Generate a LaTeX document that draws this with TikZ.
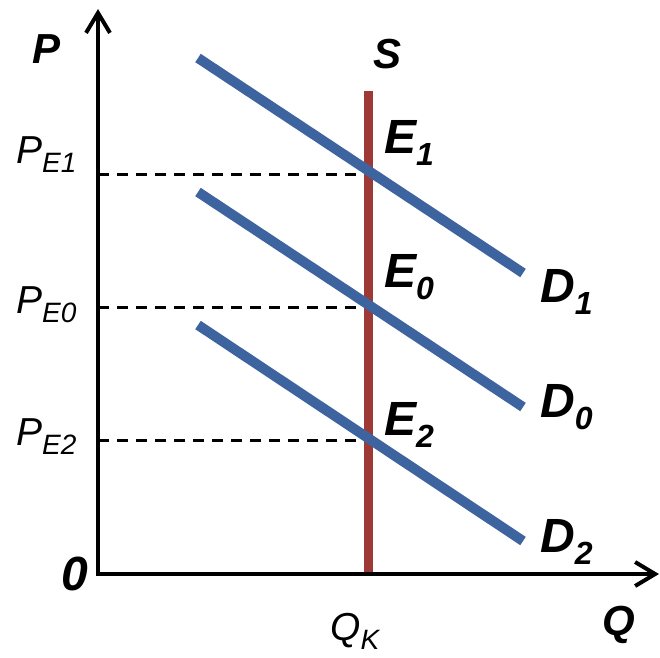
\documentclass[tikz,border=0pt]{standalone}
\usepackage{fontspec}
\setmainfont{Liberation Sans}
\usetikzlibrary{arrows.meta}
\definecolor{dblue}{HTML}{3E64A0}
\definecolor{sred}{HTML}{9E3A35}
\newcommand{\alab}[1]{\fontsize{42}{44}\selectfont\bfseries\itshape #1}
\newcommand{\blab}[2]{\fontsize{48}{50}\selectfont\bfseries\itshape #1\raisebox{-12pt}{\fontsize{32}{34}\selectfont #2}}
\newcommand{\plab}[2]{\fontsize{39}{40}\selectfont\itshape #1\raisebox{-9pt}{\fontsize{28}{30}\selectfont #2}}

\begin{document}
\begin{tikzpicture}[x=1pt,y=-1pt,
  axis/.style={line width=4pt,{Straight Barb[length=20pt,width=24pt,line width=4pt]}-{Straight Barb[length=20pt,width=24pt,line width=4pt]}},
  demand/.style={dblue,line width=10pt},
  supply/.style={sred,line width=9pt},
  guide/.style={line width=3pt,dash pattern=on 11pt off 8pt},
  lab/.style={anchor=base west,inner sep=0pt}]
  \useasboundingbox (0,0) rectangle (660,657);
  % price guides
  \foreach \n/\y in {1/174,0/307,2/440}
    {\coordinate (p\n) at (98,\y);
     \coordinate (e\n) at (368,\y);
     \draw[guide] (p\n) -- (e\n);}
  % supply
  \coordinate (stop) at (368,91);
  \coordinate (sbot) at (368,574);
  \draw[supply] (stop) -- (sbot);
  % demand curves
  \foreach \n/\ya/\yb in {1/58/273,0/192/407,2/325/541}
    {\coordinate (d\n a) at (198,\ya);
     \coordinate (d\n b) at (523,\yb);
     \draw[demand] (d\n a) -- (d\n b);}
  % axes
  \coordinate (O) at (98,574);
  \coordinate (ytop) at (98,9);
  \coordinate (xend) at (659,574);
  \draw[axis] (ytop) -- (O) -- (xend);
  % labels
  \node[lab] (P) at (32,63) {\alab{P}};
  \node[lab] (S) at (373,68) {\alab{S}};
  \node[lab] (Q) at (602,635) {\alab{Q}};
  \node[lab] (zero) at (61,590) {\blab{0}{}};
  \node[lab] (E1) at (384,153) {\blab{E}{1}};
  \node[lab] (E0) at (384,287) {\blab{E}{0}};
  \node[lab] (E2) at (384,435) {\blab{E}{2}};
  \node[lab] (D1) at (540,302) {\blab{D}{1}};
  \node[lab] (D0) at (540,417) {\blab{D}{0}};
  \node[lab] (D2) at (540,552) {\blab{D}{2}};
  \node[lab] (PE1) at (16,163) {\plab{P}{E1}};
  \node[lab] (PE0) at (16,313) {\plab{P}{E0}};
  \node[lab] (PE2) at (16,445) {\plab{P}{E2}};
  \node[lab] (QK) at (330,640) {\plab{Q}{K}};
\end{tikzpicture}
\end{document}
